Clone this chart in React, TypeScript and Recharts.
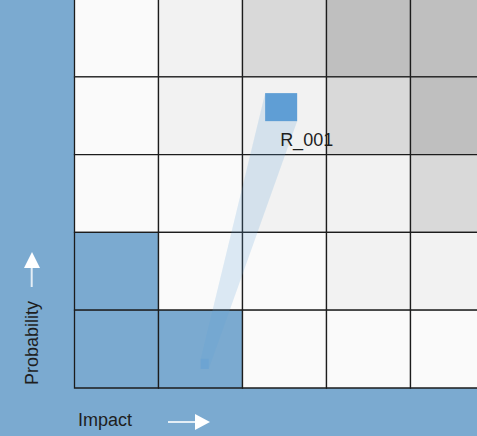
import React from 'react';
import { ScatterChart, Scatter, XAxis, YAxis, ReferenceArea, Customized } from 'recharts';

// Impact categories (columns, left to right) and probability categories (rows, top to bottom)
const impactCategories = [1, 2, 3, 4, 5];
const probabilityCategories = [5, 4, 3, 2, 1];
// Risk level of each cell, rows from top (probability 5) to bottom (probability 1)
const riskLevelsP5 = [1, 2, 3, 4, 4];
const riskLevelsP4 = [1, 2, 2, 3, 4];
const riskLevelsP3 = [1, 1, 2, 2, 3];
const riskLevelsP2 = [0, 1, 1, 2, 2];
const riskLevelsP1 = [0, 0, 1, 1, 1];
const riskLevelRows = [riskLevelsP5, riskLevelsP4, riskLevelsP3, riskLevelsP2, riskLevelsP1];

// Risk points
const riskNames = ['R_001'];
const currentImpact = [2.46];
const currentProbability = [3.61];
const previousImpact = [1.55];
const previousProbability = [0.31];

const axisLabelX = 'Impact';
const axisLabelY = 'Probability';

const BG = '#7BAAD0';
const levelColors = [BG, '#FAFAFA', '#F2F2F2', '#D9D9D9', '#BFBFBF'];
const MARK = '#5F9ED5';
const FONT = '"Liberation Sans", Arial, sans-serif';

const riskData = riskNames.flatMap((name, i) => [
  { x: previousImpact[i], y: previousProbability[i], kind: 'prev', name },
  { x: currentImpact[i], y: currentProbability[i], kind: 'cur', name },
]);

const cells = riskLevelRows.flatMap((row, r) =>
  row.map((level, c) => ({
    x1: impactCategories[c] - 1,
    x2: impactCategories[c],
    y1: probabilityCategories[r] - 1,
    y2: probabilityCategories[r],
    level,
  }))
);

const halfSize = (kind: string) => (kind === 'cur' ? [16, 14] : [4, 5]);

function hull(pts: { x: number; y: number }[]) {
  const p = [...pts].sort((a, b) => (a.x === b.x ? a.y - b.y : a.x - b.x));
  const cross = (o: any, a: any, b: any) => (a.x - o.x) * (b.y - o.y) - (a.y - o.y) * (b.x - o.x);
  const lower: any[] = [];
  for (const q of p) {
    while (lower.length >= 2 && cross(lower[lower.length - 2], lower[lower.length - 1], q) <= 0) lower.pop();
    lower.push(q);
  }
  const upper: any[] = [];
  for (let i = p.length - 1; i >= 0; i--) {
    const q = p[i];
    while (upper.length >= 2 && cross(upper[upper.length - 2], upper[upper.length - 1], q) <= 0) upper.pop();
    upper.push(q);
  }
  upper.pop();
  lower.pop();
  return lower.concat(upper);
}

const TrailLine = (props: any) => {
  const pts = props.points || [];
  const corners: { x: number; y: number }[] = [];
  pts.forEach((pt: any, i: number) => {
    const [hw, hh] = halfSize(riskData[i] ? riskData[i].kind : 'prev');
    corners.push({ x: pt.x - hw, y: pt.y - hh }, { x: pt.x + hw, y: pt.y - hh }, { x: pt.x + hw, y: pt.y + hh }, { x: pt.x - hw, y: pt.y + hh });
  });
  if (corners.length < 3) return <g />;
  const h = hull(corners);
  return <polygon points={h.map((q) => `${q.x},${q.y}`).join(' ')} fill={MARK} fillOpacity={0.2} stroke="none" />;
};

const RiskShape = (props: any) => {
  const { cx, cy, payload } = props;
  const [hw, hh] = halfSize(payload.kind);
  if (payload.kind === 'cur') {
    return (
      <g>
        <rect x={cx - hw} y={cy - hh} width={hw * 2} height={hh * 2} fill={MARK} />
        <text x={cx - 1} y={cy + 39} fontSize={18} fontFamily={FONT} fill="#1e1e1e">{payload.name}</text>
      </g>
    );
  }
  return <rect x={cx - hw} y={cy - hh} width={hw * 2} height={hh * 2} fill={MARK} fillOpacity={0.35} />;
};

const Decorations = () => (
  <g>
    <text x={78} y={427} fontSize={18} fontFamily={FONT} fill="#1e1e1e">{axisLabelX}</text>
    <line x1={168} y1={423} x2={197} y2={423} stroke="#FFFFFF" strokeOpacity={0.8} strokeWidth={2} />
    <polygon points="195,415 195,431 210,423" fill="#FFFFFF" />
    <text
      x={0}
      y={0}
      transform="translate(38,344) rotate(-90)"
      textAnchor="middle"
      fontSize={18}
      fontFamily={FONT}
      fill="#1e1e1e"
    >
      {axisLabelY}
    </text>
    <line x1={31.7} y1={288} x2={31.7} y2={267} stroke="#FFFFFF" strokeOpacity={0.8} strokeWidth={2} />
    <polygon points="24,269 40,269 32,253" fill="#FFFFFF" />
  </g>
);

export default function App() {
  return (
    <div style={{ position: 'absolute', left: 0, top: 0, width: 477, height: 436, overflow: 'hidden', background: BG }}>
      <div style={{ position: 'absolute', left: 0, top: -1 }}>
        <ScatterChart width={500} height={437} margin={{ top: 0, left: 74.5, right: 5.5, bottom: 48 }}>
          <XAxis type="number" dataKey="x" domain={[0, 5]} hide />
          <YAxis type="number" dataKey="y" domain={[0, 5]} hide />
          {cells.map((c, i) => (
            <ReferenceArea
              key={i}
              x1={c.x1}
              x2={c.x2}
              y1={c.y1}
              y2={c.y2}
              fill={levelColors[c.level]}
              fillOpacity={1}
              stroke="#1c1c1c"
              strokeWidth={1.3}
              ifOverflow="visible"
            />
          ))}
          <Scatter
            data={riskData}
            isAnimationActive={false}
            line={TrailLine}
            lineType="joint"
            shape={RiskShape}
            fill={MARK}
          />
          <Customized component={Decorations} />
        </ScatterChart>
      </div>
    </div>
  );
}
